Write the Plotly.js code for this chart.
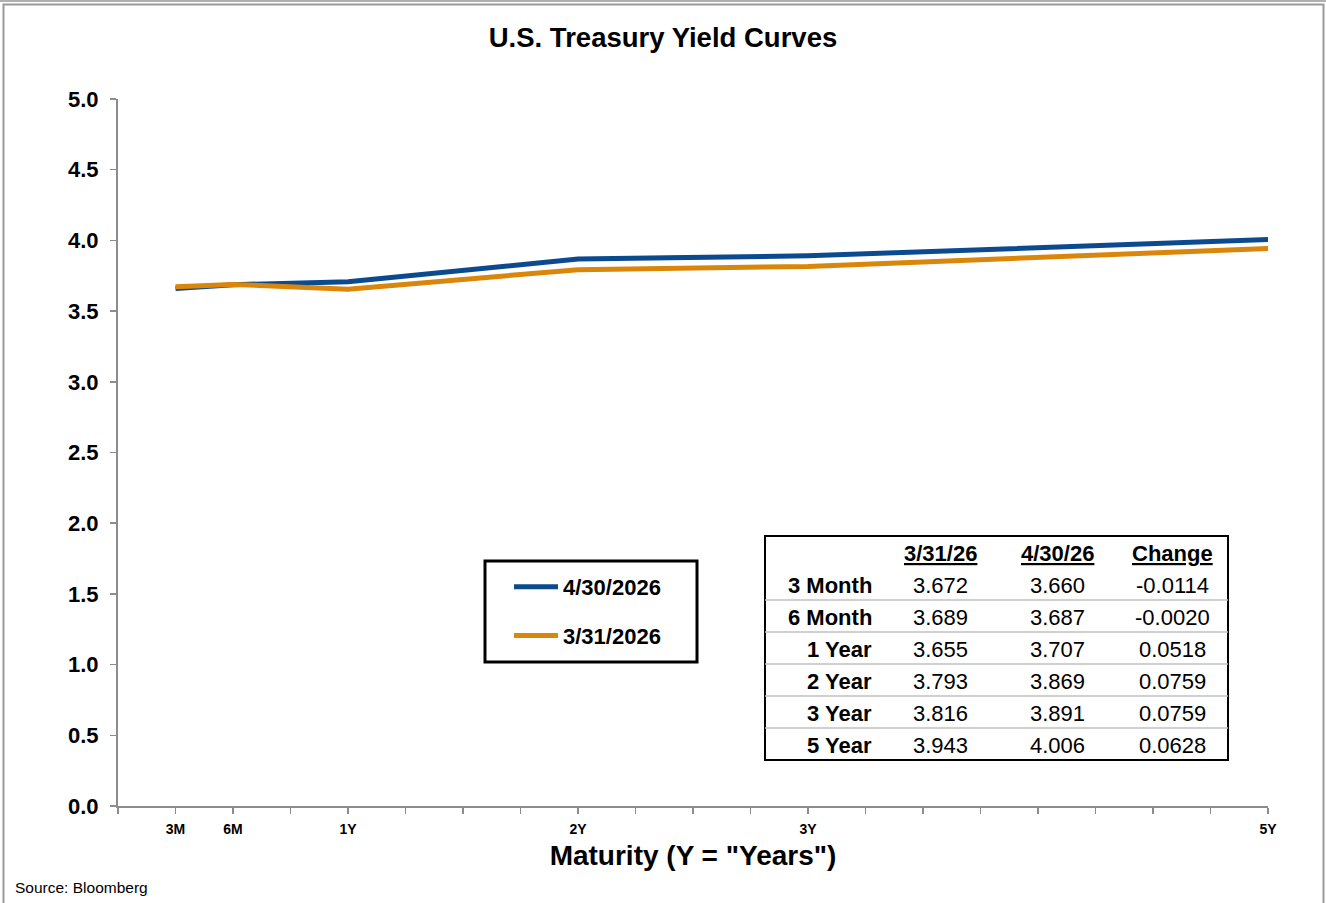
<!DOCTYPE html>
<html>
<head>
<meta charset="utf-8">
<script src="https://cdn.plot.ly/plotly-3.0.1.min.js"></script>
<style>
  html, body { margin: 0; padding: 0; background: #ffffff; }
  #chart { width: 1326px; height: 903px; }
</style>
</head>
<body>
<div id="chart"></div>
<script>
// ---------------- data ----------------
const maturities = [0.25, 0.5, 1, 2, 3, 5];          // years
const yieldsApr = [3.660, 3.687, 3.707, 3.869, 3.891, 4.006]; // 4/30/2026
const yieldsMar = [3.672, 3.689, 3.655, 3.793, 3.816, 3.943]; // 3/31/2026
const changes   = [-0.0114, -0.0020, 0.0518, 0.0759, 0.0759, 0.0628];
const rowLabels = ['3 Month', '6 Month', '1 Year', '2 Year', '3 Year', '5 Year'];
const tableHeaders = ['3/31/26', '4/30/26', 'Change'];
const seriesNames = ['4/30/2026', '3/31/2026'];
const xTickVals = [0, 0.25, 0.5, 0.75, 1, 1.25, 1.5, 1.75, 2, 2.25, 2.5, 2.75, 3,
                   3.25, 3.5, 3.75, 4, 4.25, 4.5, 4.75, 5];
const xTickText = ['', '3M', '6M', '', '1Y', '', '', '', '2Y', '', '', '', '3Y',
                   '', '', '', '', '', '', '', '5Y'];
const yTickVals = [0, 0.5, 1, 1.5, 2, 2.5, 3, 3.5, 4, 4.5, 5];

// ---------------- layout helpers ----------------
const W = 1326, H = 903;
const ML = 118, MR = 58, MT = 99, MB = 97;
const PW = W - ML - MR, PH = H - MT - MB;
const PX = p => (p - ML) / PW;
const PY = p => (H - MB - p) / PH;
const FONT = 'Liberation Sans, Arial, Helvetica, sans-serif';
const BLUE = '#0B4A8E';
const ORANGE = '#D9860B';

const traces = [
  { x: maturities, y: yieldsApr, name: seriesNames[0], type: 'scatter', mode: 'lines',
    line: { color: BLUE, width: 5 }, legendgroup: 'a' },
  { x: maturities, y: yieldsMar, name: seriesNames[1], type: 'scatter', mode: 'lines',
    line: { color: ORANGE, width: 5 }, legendgroup: 'b' }
];

const shapes = [];
const annotations = [];

// outer frame
shapes.push({ type: 'rect', xref: 'paper', yref: 'paper',
  x0: PX(3.5), x1: PX(1323.5), y0: PY(915), y1: PY(4.5),
  line: { color: '#9a9a9a', width: 2 } });
shapes.push({ type: 'line', xref: 'paper', yref: 'paper',
  x0: PX(0), x1: PX(1326), y0: PY(1), y1: PY(1),
  line: { color: '#b0b0b0', width: 2 } });

// legend box
shapes.push({ type: 'rect', xref: 'paper', yref: 'paper',
  x0: PX(485), x1: PX(697), y0: PY(662), y1: PY(561),
  line: { color: '#000000', width: 3 } });

// table box
const tL = 765, tR = 1228, tT = 536, tB = 760;
shapes.push({ type: 'rect', xref: 'paper', yref: 'paper',
  x0: PX(tL), x1: PX(tR), y0: PY(tB), y1: PY(tT),
  line: { color: '#000000', width: 2 } });
const rowH = 32, firstRowY = 585;
for (let i = 0; i < rowLabels.length - 1; i++) {
  const yy = firstRowY + rowH / 2 + rowH * i - 1;
  shapes.push({ type: 'line', xref: 'paper', yref: 'paper',
    x0: PX(tL), x1: PX(tR), y0: PY(yy), y1: PY(yy),
    line: { color: '#c0c0c0', width: 1.5 } });
}

const colX = [940, 1057, 1172];
const tFont = { family: FONT, size: 22, color: '#000000' };
tableHeaders.forEach((h, j) => {
  annotations.push({ xref: 'paper', yref: 'paper', x: PX(colX[j]), y: PY(553),
    xanchor: 'center', yanchor: 'middle', showarrow: false,
    text: '<b><u>' + h + '</u></b>', font: tFont });
});
rowLabels.forEach((lab, i) => {
  const yy = PY(firstRowY + rowH * i);
  annotations.push({ xref: 'paper', yref: 'paper', x: PX(874), y: yy,
    xanchor: 'right', yanchor: 'middle', showarrow: false,
    text: '<b>' + lab + '</b>', font: tFont });
  const vals = [yieldsMar[i].toFixed(3), yieldsApr[i].toFixed(3), changes[i].toFixed(4)];
  vals.forEach((v, j) => {
    annotations.push({ xref: 'paper', yref: 'paper', x: PX(colX[j]), y: yy,
      xanchor: 'center', yanchor: 'middle', showarrow: false,
      text: v, font: tFont });
  });
});

// source note
annotations.push({ xref: 'paper', yref: 'paper', x: PX(13), y: PY(887),
  xanchor: 'left', yanchor: 'middle', showarrow: false,
  text: 'Source: Bloomberg', font: { family: FONT, size: 15.5, color: '#000000' } });

const layout = {
  width: W, height: H,
  margin: { l: ML, r: MR, t: MT, b: MB, pad: 0 },
  paper_bgcolor: '#ffffff', plot_bgcolor: '#ffffff',
  font: { family: FONT, color: '#000000' },
  title: { text: '<b>U.S. Treasury Yield Curves</b>', x: 0.5, xanchor: 'center',
    y: 1 - 37 / H, yanchor: 'middle', yref: 'container',
    font: { family: FONT, size: 27.5, color: '#000000' } },
  xaxis: {
    range: [0, 5], tickmode: 'array', tickvals: xTickVals, ticktext: xTickText,
    ticks: 'outside', ticklen: 6, tickwidth: 1.5, tickcolor: '#8c8c8c',
    showline: true, linecolor: '#8c8c8c', linewidth: 2, showgrid: false, zeroline: false,
    tickfont: { family: FONT, size: 14, color: '#000000', weight: 'bold' },
    ticklabelstandoff: 3,
    title: { text: '<b>Maturity (Y = "Years")</b>', standoff: 10,
      font: { family: FONT, size: 28, color: '#000000' } },
    fixedrange: true
  },
  yaxis: {
    range: [0, 5], tickmode: 'array', tickvals: yTickVals,
    tickformat: '.1f',
    ticks: 'outside', ticklen: 6, tickwidth: 1.5, tickcolor: '#8c8c8c',
    showline: true, linecolor: '#8c8c8c', linewidth: 2, showgrid: false, zeroline: false,
    tickfont: { family: FONT, size: 22, color: '#000000', weight: 'bold' },
    ticklabelstandoff: 7,
    fixedrange: true
  },
  showlegend: true,
  legend: {
    x: PX(509), y: PY(566), xanchor: 'left', yanchor: 'top',
    bgcolor: 'rgba(0,0,0,0)', borderwidth: 0,
    traceorder: 'grouped', tracegroupgap: 17, itemwidth: 44,
    font: { family: FONT, size: 22, color: '#000000', weight: 'bold' }
  },
  shapes: shapes,
  annotations: annotations
};

Plotly.newPlot('chart', traces, layout, { displayModeBar: false, staticPlot: true });
</script>
</body>
</html>
